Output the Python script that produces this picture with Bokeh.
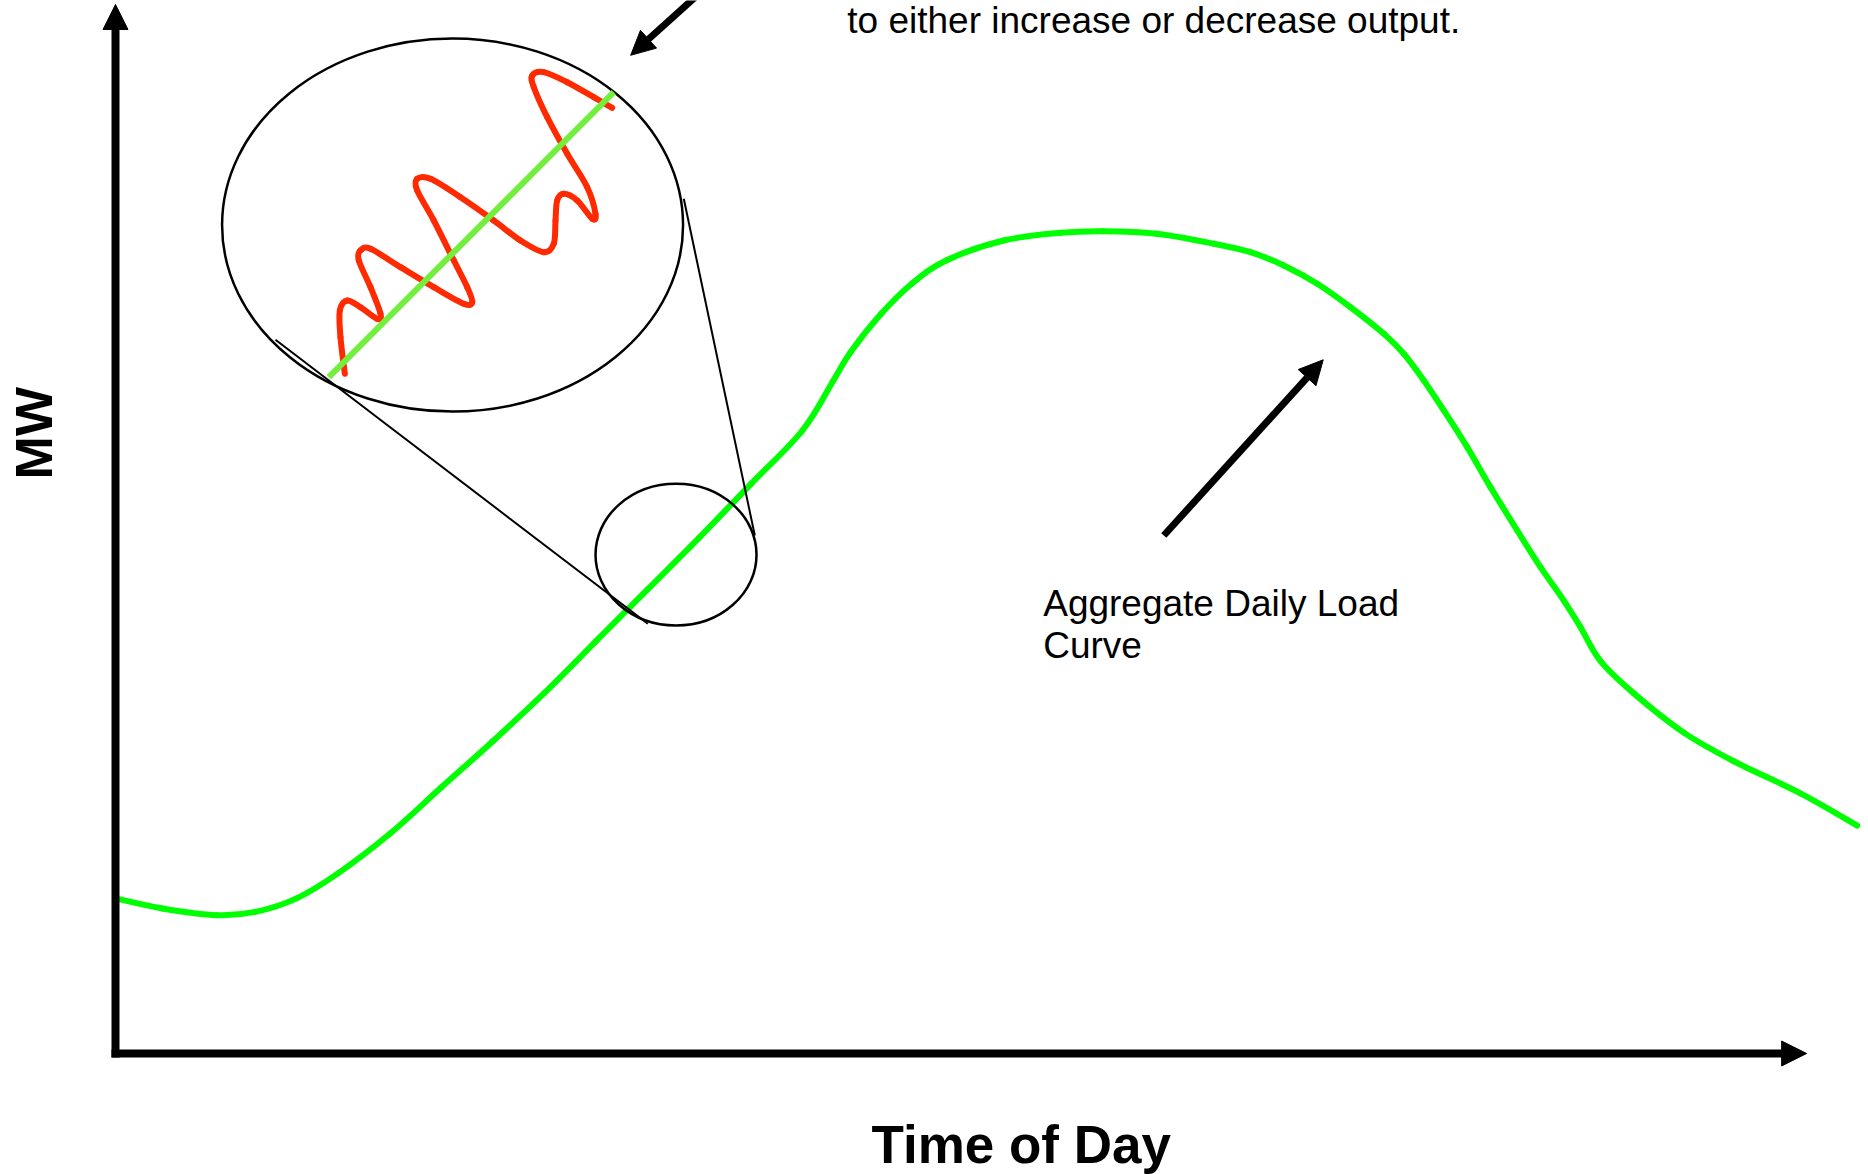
import numpy as np
from bokeh.plotting import figure
from bokeh.models import Range1d, Arrow, NormalHead
from bokeh.core.properties import value
from bokeh.embed import file_html
from bokeh.resources import INLINE

# Aggregate daily load curve (hour of day, MW in % of axis height)
time_of_day = [0.0, 0.646, 1.394, 1.927, 2.496, 3.066, 3.777, 4.488, 5.201, 5.912,
               6.623, 7.334, 8.046, 8.757, 9.468, 9.895, 10.131, 10.553, 10.975, 11.450,
               12.241, 13.032, 13.613, 14.351, 15.143, 15.644, 16.103, 16.564, 17.023, 17.482,
               17.757, 18.033, 18.309, 18.631, 18.952, 19.321, 19.642, 19.963, 20.193, 20.469,
               20.928, 21.617, 22.306, 23.225, 24.007]
load_mw = [14.79, 13.83, 13.19, 13.50, 14.79, 17.17, 20.92, 25.35, 29.77, 34.37,
           39.30, 44.24, 49.18, 54.28, 59.39, 64.16, 66.85, 70.51, 73.38, 75.60,
           77.50, 78.24, 78.39, 78.14, 77.19, 76.39, 75.12, 73.38, 71.14, 68.61,
           66.70, 64.16, 61.30, 57.80, 53.99, 49.86, 46.36, 43.18, 40.64, 37.40,
           34.33, 30.59, 27.86, 24.80, 21.73]

# Magnified regulation wiggle (inside the zoom bubble)
wiggle_h = [3.161, 3.101, 3.092, 3.194, 3.377, 3.607, 3.653, 3.515, 3.354, 3.377,
            3.515, 3.928, 4.387, 4.801, 4.917, 4.848, 4.663, 4.387, 4.158, 4.158,
            4.342, 4.755, 5.214, 5.582, 5.903, 6.041, 6.065, 6.088, 6.179, 6.364,
            6.571, 6.616, 6.502, 6.226, 5.950, 5.766, 5.744, 5.903, 6.226, 6.593, 6.846]
wiggle_mw = [64.80, 68.28, 70.83, 71.78, 71.14, 70.04, 70.51, 73.05, 75.60, 76.55,
             76.71, 74.96, 73.05, 71.47, 71.62, 73.05, 75.60, 79.41, 82.27, 83.38,
             83.38, 81.63, 79.41, 77.50, 76.39, 77.19, 79.41, 81.32, 81.96, 81.32,
             79.57, 80.05, 82.58, 85.77, 89.26, 92.12, 93.23, 93.55, 92.59, 91.16, 90.15]

# Magnified trend line
trend_h = [2.940, 6.868]
trend_mw = [64.47, 91.64]

# Zoom bubbles: (center h, center MW, width h, height MW)
big_bubble = (4.646, 78.97, 6.354, 35.56)
small_bubble = (7.726, 47.55, 2.219, 13.51)
connector_left = ([2.205, 7.337], [68.04, 40.96])
connector_right = ([7.833, 8.812], [81.48, 49.38])

labels_text = ["to either increase or decrease output.", "Aggregate Daily Load", "Curve"]
labels_h = [10.087, 12.787, 12.787]
labels_mw = [98.50, 42.89, 38.89]

FONT = value("Liberation Sans")


def smooth_segments(xs, ys):
    """Cubic Bezier segments passing through every read point (Catmull-Rom tangents)."""
    x = np.asarray(xs, float)
    y = np.asarray(ys, float)
    n = len(x)
    xp = np.concatenate([[x[0]], x, [x[-1]]])
    yp = np.concatenate([[y[0]], y, [y[-1]]])
    i = np.arange(n - 1) + 1
    cx0 = xp[i] + (xp[i + 1] - xp[i - 1]) / 6.0
    cy0 = yp[i] + (yp[i + 1] - yp[i - 1]) / 6.0
    cx1 = xp[i + 1] - (xp[i + 2] - xp[i]) / 6.0
    cy1 = yp[i + 1] - (yp[i + 2] - yp[i]) / 6.0
    return dict(x0=x[:-1], y0=y[:-1], x1=x[1:], y1=y[1:],
                cx0=cx0, cy0=cy0, cx1=cx1, cy1=cy1)


p = figure(width=1868, height=1174,
           x_range=Range1d(-1.5851, 24.1626), y_range=Range1d(-11.535, 100.381),
           output_backend="svg", toolbar_location=None, tools="",
           x_axis_type=None, y_axis_type=None, min_border=0)
p.outline_line_color = None
p.background_fill_color = "white"
p.border_fill_color = "white"
p.grid.visible = False

# main load curve
p.bezier(**smooth_segments(time_of_day, load_mw), line_color="#00FF00", line_width=6,
         line_cap="round")

# bubbles and connectors
p.ellipse(x=[big_bubble[0], small_bubble[0]], y=[big_bubble[1], small_bubble[1]],
          width=[big_bubble[2], small_bubble[2]], height=[big_bubble[3], small_bubble[3]],
          fill_color=None, line_color="black", line_width=2.5)
p.line(connector_left[0], connector_left[1], line_color="black", line_width=2)
p.line(connector_right[0], connector_right[1], line_color="black", line_width=2)

# magnified wiggle + trend
p.bezier(**smooth_segments(wiggle_h, wiggle_mw), line_color="#FF2A00", line_width=6,
         line_cap="round")
p.line(trend_h, trend_mw, line_color="#72EE3C", line_width=6)

# axes with arrow heads
p.add_layout(Arrow(end=NormalHead(size=25, fill_color="black", line_color="black"),
                   x_start=0.0, y_start=-0.38, x_end=0.0, y_end=100.0,
                   line_width=8, line_color="black"))
p.add_layout(Arrow(end=NormalHead(size=25, fill_color="black", line_color="black"),
                   x_start=-0.055, y_start=0.0, x_end=23.31, y_end=0.0,
                   line_width=8, line_color="black"))

# pointer arrows
p.add_layout(Arrow(end=NormalHead(size=24, fill_color="black", line_color="black"),
                   x_start=14.449, y_start=49.38, x_end=16.647, y_end=66.13,
                   line_width=7, line_color="black"))
p.add_layout(Arrow(end=NormalHead(size=24, fill_color="black", line_color="black"),
                   x_start=8.314, y_start=102.72, x_end=7.101, y_end=95.16,
                   line_width=7, line_color="black"))

# texts
p.text(x=labels_h, y=labels_mw, text=labels_text, text_font=FONT, text_font_size="37px",
       text_align="left", text_baseline="alphabetic", text_color="black")
p.text(x=[12.484], y=[-8.72], text=["Time of Day"], text_font=FONT, text_font_size="53px",
       text_font_style="bold", text_align="center", text_baseline="alphabetic", text_color="black")
p.text(x=[-1.130], y=[59.13], text=["MW"], text_font=FONT, text_font_size="52px",
       text_font_style="bold", text_align="center", text_baseline="alphabetic",
       angle=np.pi / 2, text_color="black")

open("out.html", "w").write(file_html(p, INLINE))
